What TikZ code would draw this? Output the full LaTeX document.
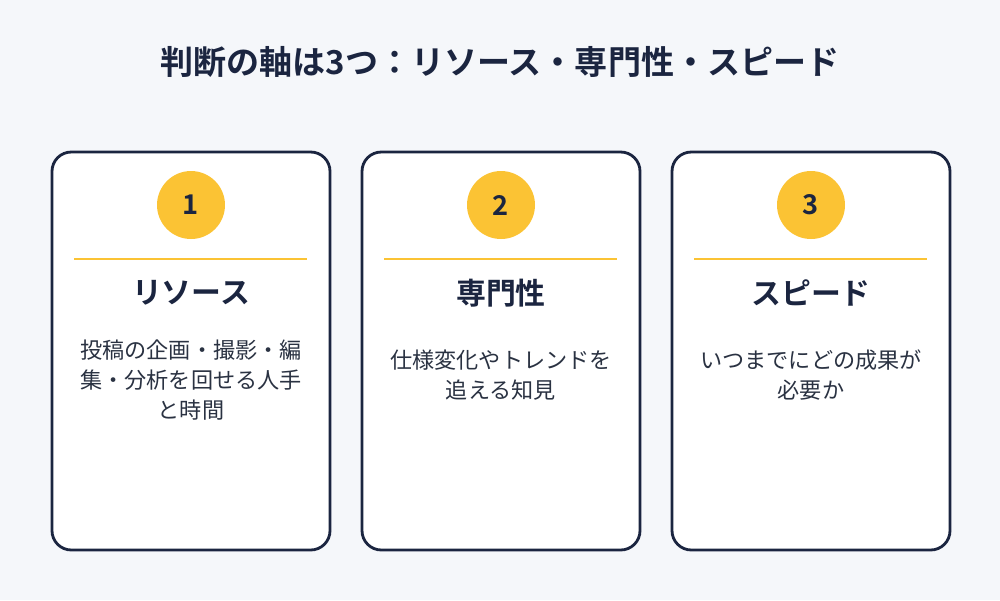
\documentclass[tikz,border=0pt]{standalone}
\usepackage{fontspec}
\setmainfont{Noto Sans CJK JP}
\newfontfamily\jpbold{Noto Sans CJK JP Bold}
\definecolor{bgcol}{HTML}{F5F7FA}
\definecolor{navy}{HTML}{1B2540}
\definecolor{gold}{HTML}{FBC334}
\definecolor{bodytext}{HTML}{2A3242}
\tikzset{
  card/.style={draw=navy, line width=1.6pt, fill=white, rounded corners=11pt},
  badge/.style={circle, fill=gold, minimum size=1.36cm, inner sep=0pt, font=\jpbold\fontsize{15.5}{18}\selectfont, text=navy},
  heading/.style={font=\jpbold\fontsize{17}{20}\selectfont, text=navy},
  body/.style={font=\fontsize{12.6}{17}\selectfont, text=bodytext, align=center}
}
\begin{document}
\begin{tikzpicture}[x=0.02cm, y=-0.02cm]
\fill[bgcol] (0,0) rectangle (1000,600);
\useasboundingbox (0,0) rectangle (1000,600);
\node[font=\jpbold\fontsize{18.8}{22}\selectfont, text=navy] (title) at (500,62) {判断の軸は3つ：リソース・専門性・スピード};

% card 1
\draw[card] (52,152) rectangle (330,550);
\node[badge] (b1) at (191,205) {1};
\draw[gold, line width=1.3pt] (74,259) -- (307,259);
\node[heading] (h1) at (191,293) {リソース};
\node[body, anchor=north] (t1) at (191,334) {投稿の企画・撮影・編\\集・分析を回せる人手\\と時間};

% card 2
\draw[card] (362,152) rectangle (640,550);
\node[badge] (b2) at (501,205) {2};
\draw[gold, line width=1.3pt] (384,259) -- (617,259);
\node[heading] (h2) at (501,293) {専門性};
\node[body, anchor=north] (t2) at (501,344) {仕様変化やトレンドを\\追える知見};

% card 3
\draw[card] (672,152) rectangle (950,550);
\node[badge] (b3) at (811,205) {3};
\draw[gold, line width=1.3pt] (694,259) -- (927,259);
\node[heading] (h3) at (811,293) {スピード};
\node[body, anchor=north] (t3) at (811,344) {いつまでにどの成果が\\必要か};
\end{tikzpicture}
\end{document}
